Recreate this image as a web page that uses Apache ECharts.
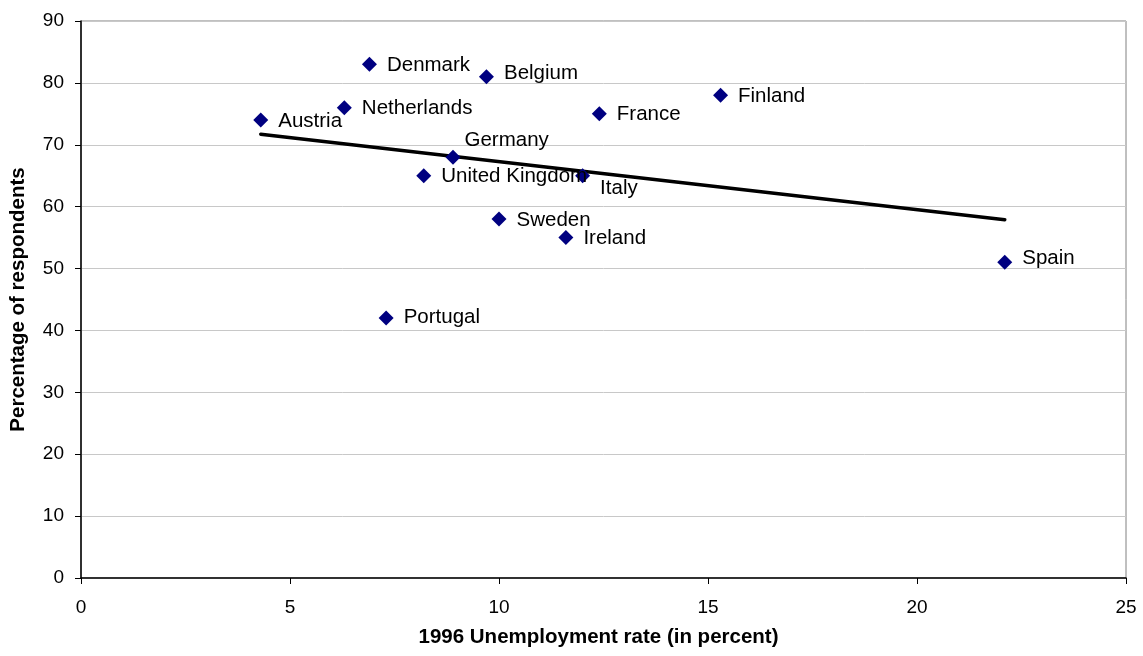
<!DOCTYPE html>
<html>
<head>
<meta charset="utf-8">
<title>Unemployment and respondents</title>
<script src="https://cdn.jsdelivr.net/npm/echarts@6/dist/echarts.min.js"></script>
<style>
  html, body { margin: 0; padding: 0; background: #ffffff; }
  #chart { width: 1143px; height: 656px; }
</style>
</head>
<body>
<div id="chart"></div>
<script>
// Countries and their values
const countries = ['Austria', 'Netherlands', 'Denmark', 'Portugal', 'United Kingdom', 'Germany',
  'Belgium', 'Sweden', 'Ireland', 'Italy', 'France', 'Finland', 'Spain'];
const unemployment = [4.3, 6.3, 6.9, 7.3, 8.2, 8.9, 9.7, 10.0, 11.6, 12.0, 12.4, 15.3, 22.1];
const respondents = [74, 76, 83, 42, 65, 68, 81, 58, 55, 65, 75, 78, 51];

// Linear trend line end points
const trendX = [4.3, 22.1];
const trendY = [71.7, 57.9];

// Axis ticks
const xTicks = [0, 5, 10, 15, 20, 25];
const yTicks = [0, 10, 20, 30, 40, 50, 60, 70, 80, 90];

// Label nudges for crowded points (pixels)
const labelNudge = {
  'Germany': { offset: [-6, -17] },
  'Italy': { offset: [0, 13] },
  'Belgium': { offset: [0, -3] },
  'Spain': { offset: [0, -4] },
  'Portugal': { offset: [0, -1] }
};

const FONT = '"Liberation Sans", Arial, Helvetica, sans-serif';

const points = countries.map((name, i) => {
  const item = { name: name, value: [unemployment[i], respondents[i]] };
  if (labelNudge[name]) item.label = labelNudge[name];
  return item;
});

const chart = echarts.init(document.getElementById('chart'), null, { renderer: 'canvas' });

chart.setOption({
  animation: false,
  backgroundColor: '#ffffff',
  grid: {
    left: 81, right: 17, top: 21, bottom: 78,
    show: true, borderColor: '#808080', borderWidth: 1, backgroundColor: 'transparent'
  },
  xAxis: {
    type: 'value',
    min: xTicks[0], max: xTicks[xTicks.length - 1], interval: xTicks[1] - xTicks[0],
    name: '1996 Unemployment rate (in percent)',
    nameLocation: 'middle',
    nameGap: 49,
    nameTextStyle: { fontFamily: FONT, fontSize: 20.5, fontWeight: 'bold', color: '#000', padding: [0, 10, 0, 0] },
    axisLine: { show: true, onZero: false, lineStyle: { color: '#000', width: 1.5 } },
    axisTick: { show: true, inside: false, length: 6, lineStyle: { color: '#000', width: 1 } },
    axisLabel: { margin: 20, fontFamily: FONT, fontSize: 19, color: '#000' },
    splitLine: { show: false }
  },
  yAxis: {
    type: 'value',
    min: yTicks[0], max: yTicks[yTicks.length - 1], interval: yTicks[1] - yTicks[0],
    name: 'Percentage of respondents',
    nameLocation: 'middle',
    nameGap: 52,
    nameRotate: 90,
    nameTextStyle: { fontFamily: FONT, fontSize: 20.5, fontWeight: 'bold', color: '#000' },
    axisLine: { show: true, onZero: false, lineStyle: { color: '#000', width: 1.5 } },
    axisTick: { show: true, inside: false, length: 6, lineStyle: { color: '#000', width: 1 } },
    axisLabel: { margin: 17, fontFamily: FONT, fontSize: 19, color: '#000' },
    splitLine: { show: true, lineStyle: { color: '#c8c8c8', width: 1 } }
  },
  series: [
    {
      name: 'Trend',
      type: 'line',
      data: trendX.map((x, i) => [x, trendY[i]]),
      symbol: 'none',
      lineStyle: { color: '#000', width: 3.5, cap: 'round' },
      z: 3,
      silent: true
    },
    {
      name: 'Countries',
      type: 'scatter',
      data: points,
      symbol: 'diamond',
      symbolSize: 15,
      itemStyle: { color: '#000080', opacity: 1 },
      z: 4,
      label: {
        show: true,
        position: 'right',
        distance: 10,
        offset: [0, 1],
        formatter: p => p.name,
        fontFamily: FONT,
        fontSize: 20.5,
        color: '#000'
      }
    }
  ]
});
</script>
</body>
</html>
